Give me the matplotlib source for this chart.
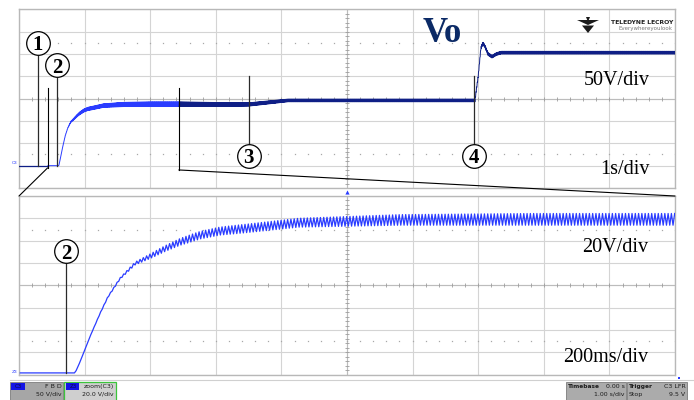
import numpy as np
import matplotlib
matplotlib.use('Agg')
import matplotlib.pyplot as plt
from matplotlib.patches import Rectangle, ConnectionPatch, Polygon

# ---- SCOPE SETTINGS ----
W, H = 694, 400
zoom_start = 0.436      # s, left edge of the Z3 zoom window
zoom_span = 2.0         # s (200 ms/div x 10)
zoom_end = zoom_start + zoom_span
ripple_hz = 100         # rectified mains ripple on Vo

navy = '#0f1f86'
bright = '#2a3cff'
serif = 'Liberation Serif'

# ---- Vo (C3), values taken off the screen ----
t_pts = [0, 0.607, 0.622, 0.652, 0.683, 0.707, 0.744, 0.79, 0.836, 0.882,
         0.927, 0.988, 1.049, 1.11, 1.14, 1.29, 1.60, 2.0, 2.44, 3.0,
         3.50, 3.80, 4.10, 5.0, 6.0, 6.95, 7.00, 7.04, 7.07, 7.10,
         7.15, 7.21, 7.28, 7.35, 8.0, 9.0, 10.0]
v_pts = [0, 0, 9.8, 32.2, 53.2, 68, 84.5, 98, 104.5, 111.4,
         117.3, 123.3, 127, 128.8, 129.7, 134.5, 137, 137.5, 137.5, 137,
         137, 141.5, 146, 146, 146, 146, 200, 262, 274, 268,
         250, 244, 250, 253, 253, 253, 253]

# peak-to-peak ripple riding on Vo (V)
rip_t = [0, 0.65, 0.70, 0.75, 0.80, 0.85, 0.95, 1.10, 1.30, 1.60, 2.0, 2.44, 3.5, 4.1, 10.0]
rip_pp = [0, 0, 0.8, 1.5, 3.0, 4.5, 6.5, 7.5, 8.0, 9.5, 10.5, 10.5, 7.5, 6.0, 6.0]

# event tags: time, circle height, top of the lead line (top panel volts)
tag_lbl = ['1', '2', '3', '4']
tag_t = [0.285, 0.58, 3.50, 6.93]
tag_circle_v = [275, 225, 22, 22]
tag_line_v = [0, 0, 201, 201]

# ---- BUILD TRACE ----
t_tr = np.arange(0, 10.0001, 0.5 / ripple_hz)
swing = np.where(np.arange(len(t_tr)) % 2 == 0, -0.5, 0.5)
v_tr = np.interp(t_tr, t_pts, v_pts) + swing * np.interp(t_tr, rip_t, rip_pp)


def fx(x):
    return x / W


def fy(y):
    return 1 - y / H


def scope_grid(ax, x0, xdiv, y0, ydiv):
    ax.set_xlim(x0, x0 + 10 * xdiv)
    ax.set_ylim(y0, y0 + 8 * ydiv)
    ax.set_xticks(x0 + xdiv * np.arange(11))
    ax.set_yticks(y0 + ydiv * np.arange(9))
    ax.tick_params(length=0, labelbottom=False, labelleft=False)
    ax.grid(True, color='#d4d4d4', lw=0.8)
    ax.set_axisbelow(True)
    for s in ax.spines.values():
        s.set_color('#b8b8b8')
        s.set_linewidth(1.0)
    xc = x0 + 5 * xdiv
    yc = y0 + 4 * ydiv
    ax.axhline(yc, color='#bcbcbc', lw=0.8, zorder=1)
    ax.axvline(xc, color='#bcbcbc', lw=0.8, zorder=1)
    fine_x = x0 + xdiv * np.arange(0, 10.01, 0.2)
    fine_y = y0 + ydiv * np.arange(0, 8.01, 0.2)
    ax.plot(fine_x, np.full_like(fine_x, yc), ls='none', marker='|', ms=3.5,
            mew=0.6, color='#9c9c9c', zorder=1)
    ax.plot(np.full_like(fine_y, xc), fine_y, ls='none', marker='_', ms=3.5,
            mew=0.6, color='#9c9c9c', zorder=1)
    for r in (1.5, 6.5):
        ax.plot(fine_x, np.full_like(fine_x, y0 + r * ydiv), ls='none', marker='s',
                ms=0.9, mew=0, color='#a8a8a8', zorder=1)


def tag(ax, t, v_circle, v_line, label):
    ax.plot([t, t], [v_line, v_circle], color='#2a2a2a', lw=0.9, zorder=4)
    ax.plot(t, v_circle, marker='o', ms=17, mfc='white', mec='black', mew=0.9,
            zorder=5, clip_on=False)
    ax.text(t, v_circle, label, ha='center', va='center_baseline', fontsize=15,
            fontweight='bold', family=serif, zorder=6)


fig = plt.figure(figsize=(W / 100, H / 100), dpi=100)
fig.patch.set_facecolor('white')

ax_top = fig.add_axes([fx(19), fy(188), 656 / W, 178.7 / H])
ax_bot = fig.add_axes([fx(19), fy(374.7), 656 / W, 178.7 / H])

# 1 s/div, 50 V/div, ground 3 div below centre
scope_grid(ax_top, 0, 1.0, -50, 50)
# 200 ms/div, 20 V/div
scope_grid(ax_bot, zoom_start, 0.2, -1.6, 20)

# ---- TRACES ----
pre = t_tr <= zoom_start
mid = (t_tr >= zoom_start) & (t_tr <= zoom_end)
post = t_tr >= zoom_end
ax_top.plot(t_tr[pre], v_tr[pre], color=navy, lw=0.9, zorder=3)
ax_top.plot(t_tr[mid], v_tr[mid], color=bright, lw=0.7, zorder=3)
ax_top.plot(t_tr[post], v_tr[post], color=navy, lw=0.7, zorder=3)
ax_bot.plot(t_tr[mid], v_tr[mid], color=bright, lw=0.9, zorder=3)

# ---- EVENT TAGS ----
for lbl, t, vc, vl in zip(tag_lbl, tag_t, tag_circle_v, tag_line_v):
    tag(ax_top, t, vc, vl, lbl)
tag(ax_bot, tag_t[1], 109, 0, tag_lbl[1])

# zoom window brackets and the lines down to the zoomed panel
ax_top.plot([zoom_start, zoom_start], [173, -5], color='black', lw=0.8, zorder=4)
ax_top.plot([zoom_end, zoom_end], [173, -9.6], color='black', lw=0.8, zorder=4)
for xa, ya, xb in ((zoom_start, -5, 0), (zoom_end, -9.6, 1)):
    cp = ConnectionPatch(xyA=(xa, ya), coordsA=ax_top.transData,
                         xyB=(xb, 1), coordsB=ax_bot.transAxes,
                         color='black', lw=0.8)
    fig.add_artist(cp)

# ---- LABELS ----
fig.text(fx(442), fy(33), 'Vo', ha='center', va='center', fontsize=25,
         fontweight='bold', family=serif, color='#0b2a66')
fig.text(fx(650), fy(85), '50V/div', ha='right', va='baseline', fontsize=14.5, family=serif)
fig.text(fx(650), fy(174), '1s/div', ha='right', va='baseline', fontsize=14.5, family=serif)
fig.text(fx(648), fy(251.5), '20V/div', ha='right', va='baseline', fontsize=14.5, family=serif)
fig.text(fx(648), fy(361.5), '200ms/div', ha='right', va='baseline', fontsize=14.5, family=serif)

# ---- OVERLAY: logo, channel markers, status bar ----
ov = fig.add_axes([0, 0, 1, 1], zorder=10)
ov.set_xlim(0, W)
ov.set_ylim(H, 0)
ov.axis('off')
ov.patch.set_alpha(0)

ov.add_patch(Polygon([(577, 20), (599, 20), (588, 25)], closed=True, fc='#1a1a1a', ec='none'))
ov.add_patch(Polygon([(582, 25.5), (594, 25.5), (588, 33)], closed=True, fc='#1a1a1a', ec='none'))
ov.add_patch(Polygon([(586, 17), (590, 17), (588, 22)], closed=True, fc='#1a1a1a', ec='none'))
ov.text(673, 22, 'TELEDYNE LECROY', ha='right', va='center', fontsize=4.4,
        fontweight='bold', family='DejaVu Sans', color='#222222')
ov.text(673, 28.5, 'Everywhereyoulook', ha='right', va='center', fontsize=4.0,
        family='DejaVu Sans', color='#7a7a7a')

ov.text(15, 163, 'C3', ha='center', va='center', fontsize=3.2, color=bright)
ov.text(15, 372, 'Z3', ha='center', va='center', fontsize=3.2, color=bright)
ov.plot(347, 191.5, marker='^', ms=3, color=bright, mew=0)
ov.plot(679, 377.5, marker='s', ms=1.5, color=bright, mew=0)

ov.plot([10, 694], [379.5, 379.5], color='#d0d0d0', lw=0.8)

sb_font = dict(fontsize=4.5, family='DejaVu Sans', color='#1c1c1c')
ov.add_patch(Rectangle((10, 382), 53, 20, fc='#a6a6a6', ec='#7c7c7c', lw=0.6))
ov.add_patch(Rectangle((11.5, 383), 14, 7, fc='#1414e6', ec='none'))
ov.text(18.5, 386.5, 'C3', ha='center', va='center', fontsize=4, color='#0a0a40')
ov.text(62, 386.5, 'F B D', ha='right', va='center', **sb_font)
ov.text(62, 394.5, '50 V/div', ha='right', va='center', **sb_font)

ov.add_patch(Rectangle((64.5, 382), 52, 20, fc='#cfcfcf', ec='#3cc43c', lw=0.9))
ov.add_patch(Rectangle((66.5, 383), 13, 7, fc='#1414e6', ec='none'))
ov.text(73, 386.5, 'Z3', ha='center', va='center', fontsize=4, color='#0a0a40')
ov.text(114, 386.5, 'zoom(C3)', ha='right', va='center', **sb_font)
ov.text(114, 394.5, '20.0 V/div', ha='right', va='center', **sb_font)

ov.add_patch(Rectangle((566, 382), 60, 20, fc='#ababab', ec='#7c7c7c', lw=0.6))
ov.text(567.5, 386.5, 'Timebase', ha='left', va='center', fontweight='bold',
        **dict(sb_font, fontsize=4.2))
ov.text(624.5, 386.5, '0.00 s', ha='right', va='center', **sb_font)
ov.text(624.5, 394.5, '1.00 s/div', ha='right', va='center', **sb_font)

ov.add_patch(Rectangle((627, 382), 60, 20, fc='#ababab', ec='#7c7c7c', lw=0.6))
ov.text(628.5, 386.5, 'Trigger', ha='left', va='center', fontweight='bold',
        **dict(sb_font, fontsize=4.2))
ov.text(685.5, 386.5, 'C3 LFR', ha='right', va='center', **sb_font)
ov.text(628.5, 394.5, 'Stop', ha='left', va='center', **sb_font)
ov.text(685.5, 394.5, '9.5 V', ha='right', va='center', **sb_font)

fig.savefig('out.png', dpi=100, facecolor='white')
